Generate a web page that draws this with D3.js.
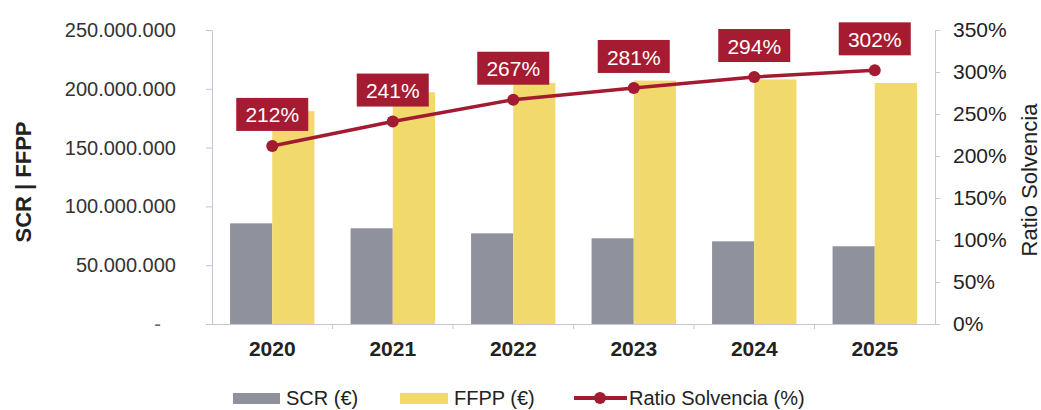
<!DOCTYPE html>
<html>
<head>
<meta charset="utf-8">
<script src="https://cdn.jsdelivr.net/npm/d3@7"></script>
<style>
    body { margin: 0; background: #fff; }
    text { font-family: "Liberation Sans", Arial, sans-serif; }
</style>
</head>
<body>
<div id="chart"></div>
<script>
var years = ['2020', '2021', '2022', '2023', '2024', '2025'];
var scrValues = [85.6e6, 81.4e6, 77.1e6, 72.9e6, 70.3e6, 66.1e6];
var ffppValues = [181e6, 197e6, 205e6, 207e6, 208e6, 205e6];
var ratioValues = [212, 241, 267, 281, 294, 302];
var leftTicks = [0, 50e6, 100e6, 150e6, 200e6, 250e6];
var rightTicks = [0, 50, 100, 150, 200, 250, 300, 350];

var width = 1041, height = 410;
var margin = {top: 30, right: 106, bottom: 86, left: 212};
var plotW = width - margin.left - margin.right,
    plotH = height - margin.top - margin.bottom;

var svg = d3.select('#chart').append('svg')
    .attr('width', width)
    .attr('height', height);

var g = svg.append('g')
    .attr('transform', 'translate(' + margin.left + ',' + margin.top + ')');

var x = d3.scaleBand().domain(years).range([0, plotW]).paddingInner(0.3).paddingOuter(0.15);
var xSub = d3.scaleBand().domain(['scr', 'ffpp']).range([0, x.bandwidth()]);
var yL = d3.scaleLinear().domain([0, 250e6]).range([plotH, 0]);
var yR = d3.scaleLinear().domain([0, 350]).range([plotH, 0]);

var fmt = function(d) {
    if (d === 0) return '-';
    return d3.format(',')(d).replace(/,/g, '.');
};

// left axis
var yAxisL = d3.axisLeft(yL).tickValues(leftTicks).tickFormat(fmt).tickSize(6).tickPadding(30);
var gl = g.append('g').attr('class', 'y-left').call(yAxisL);
gl.select('.domain').attr('stroke', '#c3c6d6');
gl.selectAll('.tick line').attr('stroke', '#c3c6d6');
gl.selectAll('.tick text')
    .style('font-size', '20px').attr('fill', '#333');
gl.selectAll('.tick').filter(function(d) { return d === 0; }).select('text')
    .attr('dx', -15).attr('fill', '#666');

// right axis
var yAxisR = d3.axisRight(yR).tickValues(rightTicks).tickFormat(function(d) { return d + '%'; }).tickSize(5).tickPadding(13);
var gr = g.append('g').attr('class', 'y-right')
    .attr('transform', 'translate(' + plotW + ',0)').call(yAxisR);
gr.select('.domain').attr('stroke', '#c9c9c9');
gr.selectAll('.tick line').attr('stroke', '#c9c9c9');
gr.selectAll('.tick text')
    .style('font-size', '21px').attr('fill', '#222');

// x axis
var xAxis = d3.axisBottom(x).tickSize(0).tickPadding(17);
var gx = g.append('g').attr('class', 'x-axis')
    .attr('transform', 'translate(0,' + plotH + ')').call(xAxis);
gx.select('.domain').attr('stroke', '#c3c6d6');
gx.selectAll('.tick text')
    .style('font-size', '21px').style('font-weight', 'bold').attr('fill', '#222');
// small separators between categories
gx.selectAll('.sep').data(years.slice(1)).enter().append('line')
    .attr('x1', function(d) { return x(d) - x.step() * x.paddingInner() / 2; })
    .attr('x2', function(d) { return x(d) - x.step() * x.paddingInner() / 2; })
    .attr('y1', 0).attr('y2', 5)
    .attr('stroke', '#c3c6d6');

// bars
var groups = g.selectAll('.grp').data(years).enter().append('g')
    .attr('class', 'grp')
    .attr('transform', function(d) { return 'translate(' + x(d) + ',0)'; });

groups.append('rect')
    .attr('x', xSub('scr'))
    .attr('width', xSub.bandwidth())
    .attr('y', function(d, i) { return yL(scrValues[i]); })
    .attr('height', function(d, i) { return plotH - yL(scrValues[i]); })
    .attr('fill', '#8f929d');

groups.append('rect')
    .attr('x', xSub('ffpp'))
    .attr('width', xSub.bandwidth())
    .attr('y', function(d, i) { return yL(ffppValues[i]); })
    .attr('height', function(d, i) { return plotH - yL(ffppValues[i]); })
    .attr('fill', '#f1d96c');

// ratio line
var cx = function(d, i) { return x(years[i]) + x.bandwidth() / 2; };
var line = d3.line()
    .x(function(d, i) { return cx(d, i); })
    .y(function(d) { return yR(d); });

g.append('path')
    .attr('d', line(ratioValues))
    .attr('fill', 'none')
    .attr('stroke', '#a31b31')
    .attr('stroke-width', 3.5);

g.selectAll('.dot').data(ratioValues).enter().append('circle')
    .attr('cx', cx)
    .attr('cy', function(d) { return yR(d); })
    .attr('r', 6)
    .attr('fill', '#a31b31');

// value labels
var lab = g.selectAll('.lab').data(ratioValues).enter().append('g')
    .attr('transform', function(d, i) { return 'translate(' + cx(d, i) + ',' + (yR(d) - 31) + ')'; });
lab.append('rect')
    .attr('x', -36).attr('y', -17)
    .attr('width', 72).attr('height', 33)
    .attr('fill', '#a51b31');
lab.append('text')
    .attr('text-anchor', 'middle')
    .attr('dy', '0.36em')
    .style('font-size', '21px')
    .attr('fill', '#fff')
    .text(function(d) { return d + '%'; });

// axis titles
svg.append('text')
    .attr('transform', 'translate(31,182) rotate(-90)')
    .attr('text-anchor', 'middle')
    .style('font-size', '22px')
    .style('font-weight', 'bold')
    .attr('fill', '#222')
    .text('SCR | FFPP');

svg.append('text')
    .attr('transform', 'translate(1037,180) rotate(-90)')
    .attr('text-anchor', 'middle')
    .style('font-size', '22px')
    .attr('fill', '#222')
    .text('Ratio Solvencia');

// legend
var legend = svg.append('g').attr('class', 'legend').attr('transform', 'translate(0,398)');
legend.append('rect').attr('x', 233).attr('y', -5).attr('width', 47).attr('height', 11).attr('fill', '#8f929d');
legend.append('text').attr('x', 286).attr('dy', '0.36em').style('font-size', '20px').attr('fill', '#222').text('SCR (€)');
legend.append('rect').attr('x', 400).attr('y', -5).attr('width', 48).attr('height', 11).attr('fill', '#f1d96c');
legend.append('text').attr('x', 454).attr('dy', '0.36em').style('font-size', '20px').attr('fill', '#222').text('FFPP (€)');
legend.append('line').attr('x1', 574).attr('x2', 627).attr('y1', 0).attr('y2', 0)
    .attr('stroke', '#a31b31').attr('stroke-width', 4);
legend.append('circle').attr('cx', 600).attr('cy', 0).attr('r', 6).attr('fill', '#a31b31');
legend.append('text').attr('x', 629).attr('dy', '0.36em').style('font-size', '20px').attr('fill', '#222').text('Ratio Solvencia (%)');
</script>
</body>
</html>
